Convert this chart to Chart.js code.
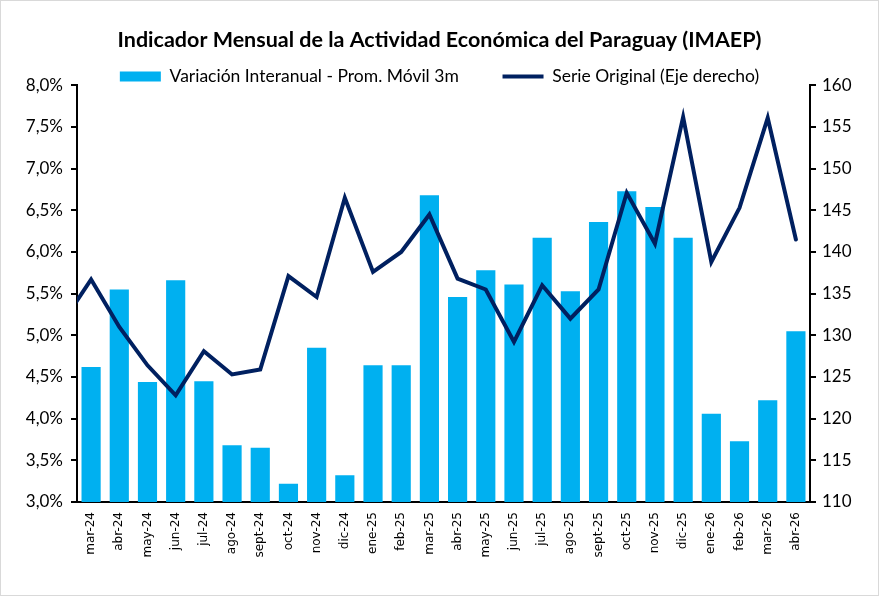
<!DOCTYPE html>
<html>
<head>
<meta charset="utf-8">
<script src="https://cdn.jsdelivr.net/npm/chart.js@4.4.1/dist/chart.umd.min.js"></script>
<style>
  html, body { margin: 0; padding: 0; background: #fff; }
  #wrap { position: relative; width: 879px; height: 596px; }
  #chart { outline: 1px solid #d9d9d9; outline-offset: -1px; }
</style>
</head>
<body>
<div id="wrap"><canvas id="chart" width="879" height="596"></canvas></div>
<script>
// Data
const categories = ['mar-24', 'abr-24', 'may-24', 'jun-24', 'jul-24', 'ago-24', 'sept-24', 'oct-24', 'nov-24', 'dic-24',
    'ene-25', 'feb-25', 'mar-25', 'abr-25', 'may-25', 'jun-25', 'jul-25', 'ago-25', 'sept-25', 'oct-25', 'nov-25', 'dic-25',
    'ene-26', 'feb-26', 'mar-26', 'abr-26'];

// Variación interanual, promedio móvil 3 meses (%)
const variacion = [4.62, 5.55, 4.44, 5.66, 4.45, 3.68, 3.65, 3.22, 4.85, 3.32,
    4.64, 4.64, 6.68, 5.46, 5.78, 5.61, 6.17, 5.53, 6.36, 6.73, 6.54, 6.17,
    4.06, 3.73, 4.22, 5.05];

// Serie original (eje derecho)
const serieOriginal = [136.7, 131.0, 126.4, 122.8, 128.1, 125.3, 125.9, 137.1, 134.6, 146.5,
    137.6, 140.0, 144.5, 136.8, 135.5, 129.2, 136.0, 132.0, 135.5, 147.1, 141.0, 156.2,
    138.8, 145.3, 156.1, 141.5];

// the month before mar-24 (only its segment is visible, clipped at the left edge)
const serieAnterior = 131.6;

const leftTicks = { min: 3, max: 8, step: 0.5 };
const rightTicks = { min: 110, max: 160, step: 5 };

// line points on an index axis so the clipped first segment can be drawn
const linePoints = [{ x: -1, y: serieAnterior }].concat(serieOriginal.map((v, i) => ({ x: i, y: v })));

const barColor = '#00b0f0';
const lineColor = '#002060';

const baseLabels = Chart.defaults.plugins.legend.labels.generateLabels;

// the legend adds 10px under its row; drop it so the plot starts right under the legend
const tightLegend = {
    id: 'tightLegend',
    beforeLayout(chart) {
        const lg = chart.legend;
        if (lg && !lg._tight) {
            const fit = lg.fit;
            lg.fit = function () {
                fit.call(this);
                this.height -= 10;
            };
            lg._tight = true;
        }
    }
};

const ctx = document.getElementById('chart').getContext('2d');
const chart = new Chart(ctx, {
    type: 'bar',
    data: {
        labels: categories,
        datasets: [{
            label: 'Variación Interanual - Prom. Móvil 3m',
            data: variacion,
            backgroundColor: barColor,
            borderWidth: 0,
            grouped: false,
            barPercentage: 0.68,
            categoryPercentage: 1,
            pointStyle: 'rect',
            yAxisID: 'y',
            xAxisID: 'x',
            order: 2
        }, {
            type: 'line',
            label: 'Serie Original (Eje derecho)',
            data: linePoints,
            borderColor: lineColor,
            backgroundColor: lineColor,
            borderWidth: 4,
            borderCapStyle: 'round',
            borderJoinStyle: 'miter',
            pointRadius: 0,
            pointStyle: 'line',
            tension: 0,
            fill: false,
            clip: 0,
            yAxisID: 'y1',
            xAxisID: 'x2',
            order: 1
        }]
    },
    options: {
        responsive: false,
        animation: false,
        layout: { padding: 0 },
        plugins: {
            title: {
                display: true,
                text: 'Indicador Mensual de la Actividad Económica del Paraguay (IMAEP)',
                color: '#000',
                font: { family: 'Lato', size: 21.5, weight: 'bold' },
                padding: { top: 27, bottom: 15 }
            },
            legend: {
                display: true,
                labels: {
                    usePointStyle: true,
                    pointStyleWidth: 41,
                    boxHeight: 10,
                    padding: 0,
                    color: '#000',
                    font: { family: 'Lato', size: 17.5 },
                    sort: (a, b) => a.datasetIndex - b.datasetIndex,
                    generateLabels: function (c) {
                        const items = baseLabels(c);
                        items.forEach(it => {
                            if (it.datasetIndex === 0) it.text = it.text + '\u2002\u2002\u2002\u2002\u2002';
                        });
                        return items;
                    }
                }
            },
            tooltip: { enabled: false }
        },
        scales: {
            x: {
                type: 'category',
                offset: true,
                grid: { display: false, drawTicks: false },
                border: { color: '#000', width: 2 },
                ticks: {
                    color: '#000',
                    font: { family: 'DejaVu Sans', size: 12 },
                    minRotation: 90,
                    maxRotation: 90,
                    autoSkip: false,
                    padding: 10
                },
                afterFit: s => { s.height = 94; }
            },
            x2: {
                type: 'linear',
                display: false,
                offset: false,
                bounds: 'ticks',
                min: -0.5,
                max: categories.length - 0.5
            },
            y: {
                position: 'left',
                min: leftTicks.min,
                max: leftTicks.max,
                grid: { drawOnChartArea: false, drawTicks: true, tickLength: 6, color: '#000', lineWidth: 2 },
                border: { color: '#000', width: 2 },
                ticks: {
                    stepSize: leftTicks.step,
                    color: '#000',
                    padding: 8,
                    font: { family: 'Lato', size: 17 },
                    callback: v => v.toFixed(1).replace('.', ',') + '%'
                },
                afterFit: s => { s.width = 77; }
            },
            y1: {
                position: 'right',
                min: rightTicks.min,
                max: rightTicks.max,
                grid: { drawOnChartArea: false, drawTicks: true, tickLength: 6, color: '#000', lineWidth: 2 },
                border: { color: '#000', width: 2 },
                ticks: {
                    stepSize: rightTicks.step,
                    color: '#000',
                    padding: 6,
                    font: { family: 'Lato', size: 17 },
                    callback: v => String(v)
                },
                afterFit: s => { s.width = 69; }
            }
        }
    },
    plugins: [tightLegend]
});
</script>
</body>
</html>
